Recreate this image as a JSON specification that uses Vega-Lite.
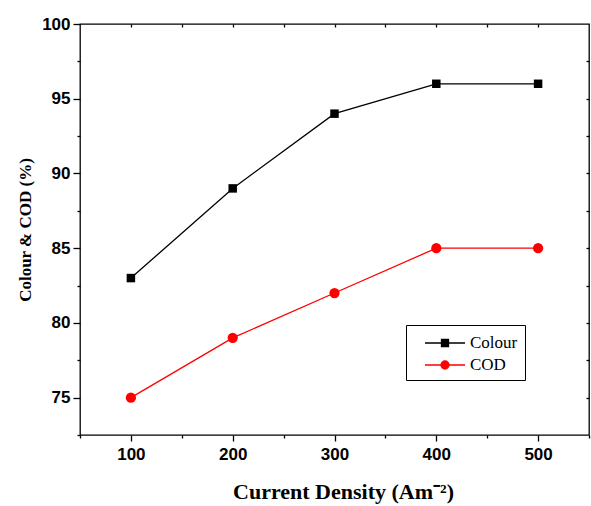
{
  "$schema": "https://vega.github.io/schema/vega-lite/v6.json",
  "width": 509,
  "height": 411,
  "autosize": {"type": "none"},
  "padding": {"left": 80, "top": 24, "right": 2, "bottom": 71},
  "background": "white",
  "config": {
    "view": {"stroke": "#000000", "strokeWidth": 1.3},
    "axis": {
      "grid": false,
      "domain": false,
      "tickColor": "#000000",
      "tickWidth": 1.3,
      "labelColor": "#000000",
      "titleColor": "#000000"
    }
  },
  "data": {
    "values": [
      {"density": 100, "value": 83, "series": "Colour"},
      {"density": 200, "value": 89, "series": "Colour"},
      {"density": 300, "value": 94, "series": "Colour"},
      {"density": 400, "value": 96, "series": "Colour"},
      {"density": 500, "value": 96, "series": "Colour"},
      {"density": 100, "value": 75, "series": "COD"},
      {"density": 200, "value": 79, "series": "COD"},
      {"density": 300, "value": 82, "series": "COD"},
      {"density": 400, "value": 85, "series": "COD"},
      {"density": 500, "value": 85, "series": "COD"}
    ]
  },
  "resolve": {"axis": {"x": "independent", "y": "independent"}},
  "layer": [
    {
      "mark": {"type": "line", "strokeWidth": 1.3},
      "encoding": {
        "x": {
          "field": "density", "type": "quantitative",
          "scale": {"domain": [50, 550], "nice": false, "zero": false},
          "axis": {
            "orient": "bottom",
            "values": [100, 200, 300, 400, 500],
            "tickSize": 6,
            "labelFont": "Liberation Sans", "labelFontWeight": "bold", "labelFontSize": 17,
            "labelPadding": 5,
            "title": "Current Density (Am⁻²)",
            "titleFont": "Liberation Serif", "titleFontWeight": "bold", "titleFontSize": 22,
            "titlePadding": 19,
            "titleX": 263
          }
        },
        "y": {
          "field": "value", "type": "quantitative",
          "scale": {"domain": [72.5, 100], "nice": false, "zero": false},
          "axis": {
            "orient": "left",
            "values": [75, 80, 85, 90, 95, 100],
            "tickSize": 7,
            "labelFont": "Liberation Sans", "labelFontWeight": "bold", "labelFontSize": 17,
            "labelPadding": 3,
            "title": "Colour & COD (%)",
            "titleFont": "Liberation Serif", "titleFontWeight": "bold", "titleFontSize": 17,
            "titlePadding": 7
          }
        },
        "color": {
          "field": "series", "type": "nominal",
          "scale": {"domain": ["Colour", "COD"], "range": ["#000000", "#ff0000"]},
          "legend": {
            "orient": "none",
            "legendX": 326,
            "legendY": 301,
            "title": null,
            "padding": 7,
            "strokeColor": "#000000",
            "fillColor": "#ffffff",
            "cornerRadius": 0,
            "symbolSize": 400,
            "symbolOffset": 21,
            "labelOffset": 14,
            "rowPadding": 3,
            "labelFont": "Liberation Serif",
            "labelFontSize": 17,
            "labelColor": "#000000",
            "encode": {
              "symbols": {
                "update": {
                  "shape": {"signal": "datum.value === 'Colour' ? 'M-2,0H2M-0.35,-0.35H0.35V0.35H-0.35Z' : 'M-2,0H2M-0.4,0A0.4,0.4 0 1,1 0.4,0A0.4,0.4 0 1,1 -0.4,0Z'"},
                  "fill": {"signal": "datum.value === 'Colour' ? '#000000' : '#ff0000'"},
                  "stroke": {"signal": "datum.value === 'Colour' ? '#000000' : '#ff0000'"},
                  "strokeWidth": {"value": 1.3},
                  "size": {"value": 400},
                  "opacity": {"value": 1},
                  "fillOpacity": {"value": 1},
                  "strokeOpacity": {"value": 1}
                }
              }
            }
          }
        }
      }
    },
    {
      "transform": [{"filter": "datum.series === 'Colour'"}],
      "mark": {"type": "point", "filled": true, "opacity": 1, "shape": "square", "size": 72, "color": "#000000"},
      "encoding": {
        "x": {
          "field": "density", "type": "quantitative",
          "axis": {
            "orient": "bottom",
            "values": [50, 150, 250, 350, 450, 550],
            "tickSize": 3,
            "labels": false,
            "title": null
          }
        },
        "y": {
          "field": "value", "type": "quantitative",
          "axis": {
            "orient": "left",
            "values": [72.5, 77.5, 82.5, 87.5, 92.5, 97.5],
            "tickSize": 3,
            "labels": false,
            "title": null
          }
        }
      }
    },
    {
      "transform": [{"filter": "datum.series === 'COD'"}],
      "mark": {"type": "point", "filled": true, "opacity": 1, "shape": "circle", "size": 105, "color": "#ff0000"},
      "encoding": {
        "x": {
          "field": "density", "type": "quantitative",
          "axis": {
            "orient": "top",
            "values": [100, 150, 200, 250, 300, 350, 400, 450, 500],
            "tickSize": -3,
            "labels": false,
            "title": null
          }
        },
        "y": {
          "field": "value", "type": "quantitative",
          "axis": {
            "orient": "right",
            "values": [75, 77.5, 80, 82.5, 85, 87.5, 90, 92.5, 95, 97.5],
            "tickSize": -3,
            "labels": false,
            "title": null
          }
        }
      }
    }
  ]
}
